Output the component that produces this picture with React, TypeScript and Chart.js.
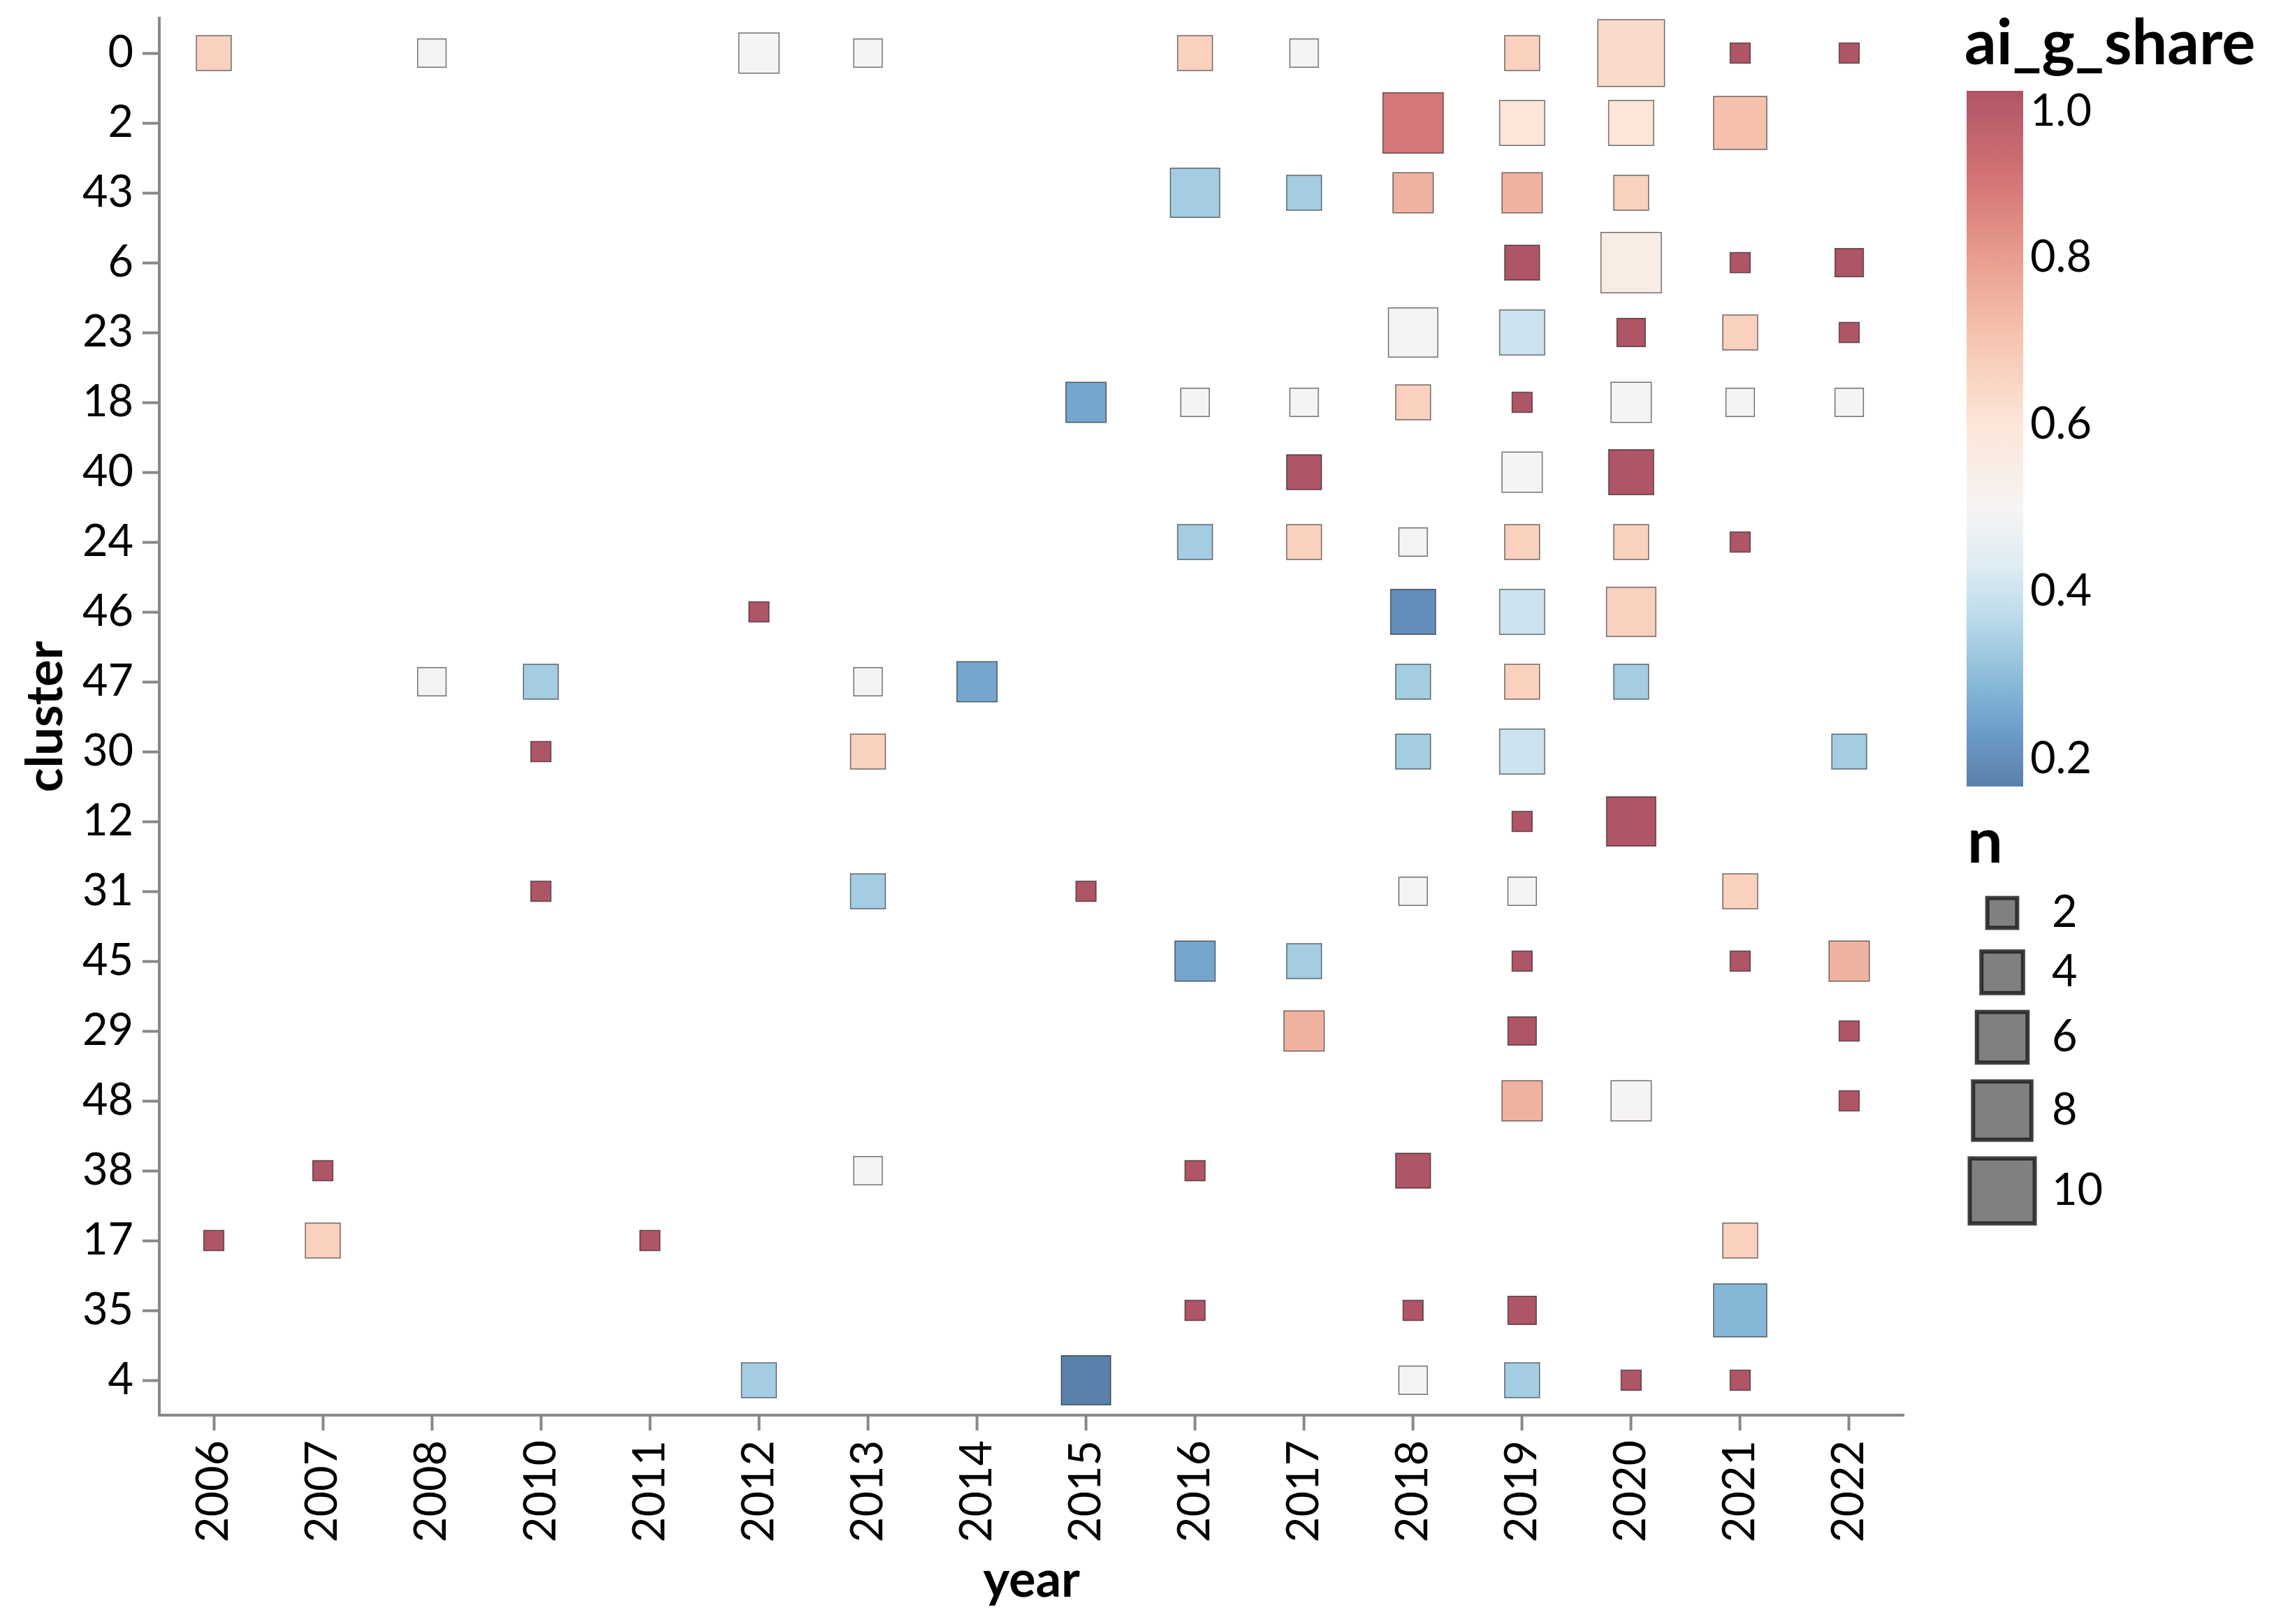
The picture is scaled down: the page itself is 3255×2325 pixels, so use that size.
import React, { useEffect, useRef } from 'react';
import { Chart, registerables } from 'chart.js';

Chart.register(...registerables);

// ---------------- data ----------------
const years = ['2006', '2007', '2008', '2010', '2011', '2012', '2013', '2014', '2015', '2016', '2017', '2018', '2019', '2020', '2021', '2022'];
const clusters = ['0', '2', '43', '6', '23', '18', '40', '24', '46', '47', '30', '12', '31', '45', '29', '48', '38', '17', '35', '4'];

const cellCluster = [
  '0', '0', '0', '0', '0', '0', '0', '0', '0', '0',
  '2', '2', '2', '2',
  '43', '43', '43', '43', '43',
  '6', '6', '6', '6',
  '23', '23', '23', '23', '23',
  '18', '18', '18', '18', '18', '18', '18', '18',
  '40', '40', '40',
  '24', '24', '24', '24', '24', '24',
  '46', '46', '46', '46',
  '47', '47', '47', '47', '47', '47', '47',
  '30', '30', '30', '30', '30',
  '12', '12',
  '31', '31', '31', '31', '31', '31',
  '45', '45', '45', '45', '45',
  '29', '29', '29',
  '48', '48', '48',
  '38', '38', '38', '38',
  '17', '17', '17', '17',
  '35', '35', '35', '35',
  '4', '4', '4', '4', '4', '4',
];
const cellYear = [
  '2006', '2008', '2012', '2013', '2016', '2017', '2019', '2020', '2021', '2022',
  '2018', '2019', '2020', '2021',
  '2016', '2017', '2018', '2019', '2020',
  '2019', '2020', '2021', '2022',
  '2018', '2019', '2020', '2021', '2022',
  '2015', '2016', '2017', '2018', '2019', '2020', '2021', '2022',
  '2017', '2019', '2020',
  '2016', '2017', '2018', '2019', '2020', '2021',
  '2012', '2018', '2019', '2020',
  '2008', '2010', '2013', '2014', '2018', '2019', '2020',
  '2010', '2013', '2018', '2019', '2022',
  '2019', '2020',
  '2010', '2013', '2015', '2018', '2019', '2021',
  '2016', '2017', '2019', '2021', '2022',
  '2017', '2019', '2022',
  '2019', '2020', '2022',
  '2007', '2013', '2016', '2018',
  '2006', '2007', '2011', '2021',
  '2016', '2018', '2019', '2021',
  '2012', '2015', '2018', '2019', '2020', '2021',
];
const cellN = [
  3, 2, 4, 2, 3, 2, 3, 11, 1, 1,
  9, 5, 5, 7,
  6, 3, 4, 4, 3,
  3, 9, 1, 2,
  6, 5, 2, 3, 1,
  4, 2, 2, 3, 1, 4, 2, 2,
  3, 4, 5,
  3, 3, 2, 3, 3, 1,
  1, 5, 5, 6,
  2, 3, 2, 4, 3, 3, 3,
  1, 3, 3, 5, 3,
  1, 6,
  1, 3, 1, 2, 2, 3,
  4, 3, 1, 1, 4,
  4, 2, 1,
  4, 4, 1,
  1, 2, 1, 3,
  1, 3, 1, 3,
  1, 1, 2, 7,
  3, 6, 2, 3, 1, 1,
];
const cellShare = [
  0.667, 0.5, 0.5, 0.5, 0.667, 0.5, 0.667, 0.636, 1, 1,
  0.889, 0.6, 0.6, 0.714,
  0.333, 0.333, 0.75, 0.75, 0.667,
  1, 0.556, 1, 1,
  0.5, 0.4, 1, 0.667, 1,
  0.25, 0.5, 0.5, 0.667, 1, 0.5, 0.5, 0.5,
  1, 0.5, 1,
  0.333, 0.667, 0.5, 0.667, 0.667, 1,
  1, 0.2, 0.4, 0.667,
  0.5, 0.333, 0.5, 0.25, 0.333, 0.667, 0.333,
  1, 0.667, 0.333, 0.4, 0.333,
  1, 1,
  1, 0.333, 1, 0.5, 0.5, 0.667,
  0.25, 0.333, 1, 1, 0.75,
  0.75, 1, 1,
  0.75, 0.5, 1,
  1, 0.5, 1, 1,
  1, 0.667, 1, 0.667,
  1, 1, 1, 0.286,
  0.333, 0.1667, 0.5, 0.333, 1, 1,
];

const colorLegendTicks = [1.0, 0.8, 0.6, 0.4, 0.2];
const sizeLegendValues = [2, 4, 6, 8, 10];

// ---------------- scales / styles ----------------
const FONT = 'Lato, "Noto Sans", sans-serif';
const W = 3255;
const H = 2325;
const PLOT_LEFT = 228;
const PLOT_RIGHT = 2725;
const PLOT_TOP = 26;
const PLOT_BOTTOM = 2026;
const SCHEME = ['8c0d25', 'bf363a', 'df745e', 'f4ae91', 'fbdbc9', 'f2efee', 'd2e5ef', '9dcae1', '5da2cb', '2f72b1', '134b85'];
const SCHEME_RGB = SCHEME.map((h) => [parseInt(h.slice(0, 2), 16), parseInt(h.slice(2, 4), 16), parseInt(h.slice(4, 6), 16)]);
const COLOR_MIN = Math.min(...cellShare);
const COLOR_MAX = Math.max(...cellShare);
const COLOR_MID = 0.5;
const MARK_OPACITY = 0.7;
const SIDE_PER_SQRT_N = 28.8;

function shareColor(v: number, alpha: number): string {
  let f = v <= COLOR_MID
    ? 0.5 * (v - COLOR_MIN) / (COLOR_MID - COLOR_MIN)
    : 0.5 + 0.5 * (v - COLOR_MID) / (COLOR_MAX - COLOR_MID);
  f = Math.max(0, Math.min(1, f));
  const t = (1 - f) * 10;
  const i = Math.min(9, Math.floor(t));
  const r = t - i;
  const a = SCHEME_RGB[i];
  const b = SCHEME_RGB[i + 1];
  const c = [0, 1, 2].map((k) => Math.round(a[k] + (b[k] - a[k]) * r));
  return `rgba(${c[0]},${c[1]},${c[2]},${alpha})`;
}

function sideFor(n: number): number {
  return SIDE_PER_SQRT_N * Math.sqrt(n);
}

const legendPlugin = {
  id: 'vegaLegends',
  afterDraw(chart: any) {
    const ctx = chart.ctx as CanvasRenderingContext2D;
    ctx.save();
    ctx.fillStyle = '#000';
    ctx.textAlign = 'left';

    // colour legend
    ctx.font = `bold 90px ${FONT}`;
    ctx.textBaseline = 'alphabetic';
    ctx.fillText('ai_g_share', 2812, 92);

    const gx = 2815, gy = 130, gw = 81, gh = 996;
    const grad = ctx.createLinearGradient(0, gy, 0, gy + gh);
    const steps = 60;
    for (let i = 0; i <= steps; i++) {
      const v = COLOR_MAX - (i / steps) * (COLOR_MAX - COLOR_MIN);
      grad.addColorStop(i / steps, shareColor(v, MARK_OPACITY));
    }
    ctx.fillStyle = grad;
    ctx.fillRect(gx, gy, gw, gh);

    ctx.fillStyle = '#000';
    ctx.font = `63px ${FONT}`;
    colorLegendTicks.forEach((tv) => {
      const y = gy + ((COLOR_MAX - tv) / (COLOR_MAX - COLOR_MIN)) * gh;
      if (tv >= COLOR_MAX - 1e-9) {
        ctx.textBaseline = 'top';
        ctx.fillText(tv.toFixed(1), 2906, y - 2);
      } else {
        ctx.textBaseline = 'middle';
        ctx.fillText(tv.toFixed(1), 2906, y);
      }
    });

    // size legend
    ctx.font = `bold 90px ${FONT}`;
    ctx.textBaseline = 'alphabetic';
    ctx.fillText('n', 2816, 1235);

    const centersY = [1307, 1392, 1485, 1590, 1705];
    const cx = 2866;
    sizeLegendValues.forEach((nv, i) => {
      const s = sideFor(nv) + 2;
      const cy = centersY[i];
      ctx.fillStyle = '#808080';
      ctx.fillRect(cx - s / 2, cy - s / 2, s, s);
      ctx.lineWidth = 6;
      ctx.strokeStyle = 'rgba(30,30,30,0.85)';
      ctx.strokeRect(cx - s / 2, cy - s / 2, s, s);
      ctx.fillStyle = '#000';
      ctx.font = `63px ${FONT}`;
      ctx.textBaseline = 'middle';
      ctx.fillText(String(nv), 2937, cy);
    });
    ctx.restore();
  },
};

export default function App() {
  const canvasRef = useRef<HTMLCanvasElement | null>(null);

  useEffect(() => {
    document.body.style.margin = '0';
    const canvas = canvasRef.current;
    if (!canvas) return;

    const points = cellYear.map((yr, i) => ({
      x: yr,
      y: clusters.indexOf(cellCluster[i]),
      n: cellN[i],
      v: cellShare[i],
    }));

    const chart = new Chart(canvas, {
      type: 'scatter',
      data: {
        datasets: [
          {
            data: points as any,
            pointStyle: 'rect',
            pointRadius: (c: any) => sideFor(c.raw ? c.raw.n : 1) / Math.SQRT2,
            pointHoverRadius: (c: any) => sideFor(c.raw ? c.raw.n : 1) / Math.SQRT2,
            pointBackgroundColor: (c: any) => shareColor(c.raw ? c.raw.v : 0.5, MARK_OPACITY),
            pointBorderColor: 'rgba(0,0,0,0.55)',
            pointBorderWidth: 1.5,
            clip: false,
          } as any,
        ],
      },
      options: {
        animation: false,
        responsive: false,
        events: [],
        layout: { autoPadding: false, padding: { left: 0, right: W - PLOT_RIGHT, top: PLOT_TOP, bottom: 0 } },
        plugins: { legend: { display: false }, tooltip: { enabled: false } },
        scales: {
          x: {
            type: 'category',
            labels: years,
            offset: true,
            position: 'bottom',
            grid: { display: true, drawOnChartArea: false, drawTicks: true, tickLength: 22, tickWidth: 4, tickColor: '#888', color: '#888' },
            border: { display: true, color: '#888', width: 4 },
            ticks: { autoSkip: false, minRotation: 90, maxRotation: 90, padding: 14, color: '#000', font: { family: FONT, size: 63 } },
            title: { display: true, text: 'year', color: '#000', font: { family: FONT, size: 72, weight: 'bold' }, padding: { top: 0, bottom: 19 } },
            afterFit: (s: any) => {
              s.height = H - PLOT_BOTTOM;
              s.paddingLeft = 0; s.paddingRight = 0; s.paddingTop = 0; s.paddingBottom = 0;
            },
          },
          y: {
            type: 'linear',
            min: -0.5,
            max: clusters.length - 0.5,
            reverse: true,
            position: 'left',
            grid: { display: true, drawOnChartArea: false, drawTicks: true, tickLength: 24, tickWidth: 4, tickColor: '#888', color: '#888' },
            border: { display: true, color: '#888', width: 4 },
            ticks: {
              autoSkip: false,
              padding: 13,
              color: '#000',
              font: { family: FONT, size: 63 },
              callback: (value: any) => clusters[Math.round(Number(value))] ?? '',
            },
            afterBuildTicks: (s: any) => {
              s.ticks = clusters.map((_, i) => ({ value: i }));
            },
            title: { display: true, text: 'cluster', color: '#000', font: { family: FONT, size: 72, weight: 'bold' }, padding: { top: 23, bottom: 0 } },
            afterFit: (s: any) => {
              s.width = PLOT_LEFT;
              s.paddingLeft = 0; s.paddingRight = 0; s.paddingTop = 0; s.paddingBottom = 0;
            },
          },
        } as any,
      },
      plugins: [legendPlugin],
    } as any);

    return () => chart.destroy();
  }, []);

  return (
    <div style={{ width: W, height: H }}>
      <canvas ref={canvasRef} width={W} height={H} style={{ display: 'block', width: W, height: H }} />
    </div>
  );
}
